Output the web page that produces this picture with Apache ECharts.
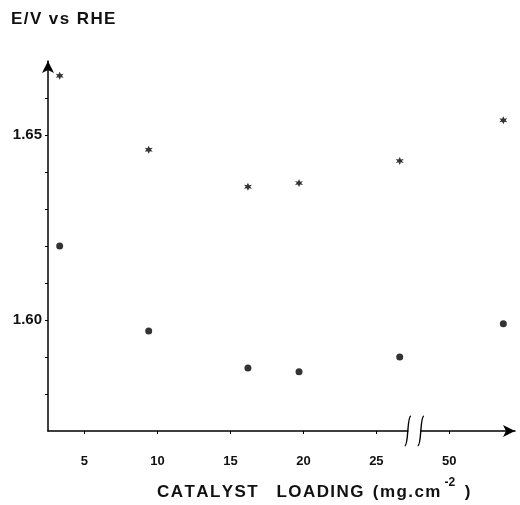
<!DOCTYPE html>
<html>
<head>
<meta charset="utf-8">
<script src="https://cdn.jsdelivr.net/npm/echarts@6/dist/echarts.min.js"></script>
<style>
  html, body { margin: 0; padding: 0; background: #fff; }
  #chart { width: 520px; height: 505px; }
</style>
</head>
<body>
<div id="chart"></div>
<script>
// catalyst loading (mg/cm2) and cell potential (V vs RHE)
var loading = [3.3, 9.4, 16.2, 19.7, 26.6, 53.7];
var starE = [1.666, 1.646, 1.636, 1.637, 1.643, 1.654];
var dotE = [1.620, 1.597, 1.587, 1.586, 1.590, 1.599];
var xTickLabels = [5, 10, 15, 20, 25, 50];
var yTickLabels = [1.60, 1.65];
var yMinorTicks = [1.58, 1.59, 1.60, 1.61, 1.62, 1.63, 1.64, 1.65, 1.66];

// axis is broken between 27.6 and 47.6
var breakAt = 27.6;
var skip = 20;
function pos(x) { return x > breakAt ? x - skip : x; }

// spread letters a bit, like the typed original
function spaced(s) { return s.split('').join('\u200A'); }

var myChart = echarts.init(document.getElementById('chart'));

var starPath = 'path://M5,0 L6.3,3.2 L9.3,2.5 L7.4,5 L9.3,7.5 L6.3,6.8 L5,10 L3.7,6.8 L0.7,7.5 L2.6,5 L0.7,2.5 L3.7,3.2 Z';

var option = {
  animation: false,
  grid: {
    left: 48,
    right: 5,
    top: 61,
    bottom: 74
  },
  xAxis: {
    type: 'value',
    min: 2.5,
    max: 34.5,
    splitLine: { show: false },
    axisLine: {
      onZero: false,
      symbol: ['none', 'arrow'],
      symbolSize: [9, 12],
      lineStyle: { color: '#000', width: 1.5 }
    },
    axisTick: {
      customValues: xTickLabels.map(pos),
      length: 3,
      lineStyle: { color: '#000' }
    },
    axisLabel: {
      customValues: xTickLabels.map(pos),
      margin: 24,
      color: '#111',
      fontFamily: 'Liberation Sans',
      fontWeight: 'bold',
      fontSize: 13,
      formatter: function (v) {
        return v > breakAt ? String(v + skip) : String(v);
      }
    }
  },
  yAxis: {
    type: 'value',
    min: 1.57,
    max: 1.67,
    splitLine: { show: false },
    axisLine: {
      onZero: false,
      symbol: ['none', 'arrow'],
      symbolSize: [9, 12],
      lineStyle: { color: '#000', width: 1.5 }
    },
    axisTick: {
      customValues: yMinorTicks,
      length: 3,
      lineStyle: { color: '#000' }
    },
    axisLabel: {
      customValues: yTickLabels,
      margin: 6,
      color: '#111',
      fontFamily: 'Liberation Sans',
      fontWeight: 'bold',
      fontSize: 15,
      padding: [0, 0, 5, 0],
      formatter: function (v) { return v.toFixed(2); }
    }
  },
  graphic: [
    {
      id: 'ytitle',
      type: 'text',
      left: 11,
      top: 11,
      style: {
        text: spaced('E/V vs RHE'),
        fill: '#111',
        font: 'bold 17px "Liberation Sans"'
      }
    },
    {
      id: 'xtitle',
      type: 'text',
      left: 157,
      top: 477,
      style: {
        text: '{t|' + spaced('CATALYST') + '    ' + spaced('LOADING') + '  ' + spaced('(mg.cm') + '}' +
              '{sup|-2}{t| )}',
        fill: '#111',
        rich: {
          t: {
            font: 'bold 17px "Liberation Sans"',
            lineHeight: 24,
            verticalAlign: 'bottom'
          },
          sup: {
            font: 'bold 12px "Liberation Sans"',
            lineHeight: 12,
            verticalAlign: 'top',
            padding: [0, 5, 0, 4]
          }
        }
      }
    }
  ],
  series: [
    {
      type: 'scatter',
      symbol: starPath,
      symbolSize: 8,
      itemStyle: { color: '#000' },
      data: loading.map(function (x, i) { return [pos(x), starE[i]]; })
    },
    {
      type: 'scatter',
      symbol: 'circle',
      symbolSize: 7,
      itemStyle: { color: '#000' },
      data: loading.map(function (x, i) { return [pos(x), dotE[i]]; })
    }
  ]
};

myChart.setOption(option);

// break marks on the x axis
var bx = myChart.convertToPixel({ xAxisIndex: 0 }, breakAt);
var by = myChart.convertToPixel({ yAxisIndex: 0 }, 1.57);
function mark(id, x) {
  return {
    id: id,
    type: 'bezierCurve',
    shape: {
      x1: x - 3, y1: by + 15,
      x2: x + 3, y2: by - 15,
      cpx1: x + 1, cpy1: by + 14,
      cpx2: x - 1, cpy2: by - 14
    },
    style: { stroke: '#000', lineWidth: 1.4, fill: null },
    z: 110
  };
}
myChart.setOption({
  graphic: [
    {
      id: 'gap',
      type: 'rect',
      shape: { x: bx - 6, y: by - 3, width: 12, height: 6 },
      style: { fill: '#fff' },
      z: 100
    },
    mark('m1', bx - 6.5),
    mark('m2', bx + 6.5)
  ]
});
</script>
</body>
</html>
